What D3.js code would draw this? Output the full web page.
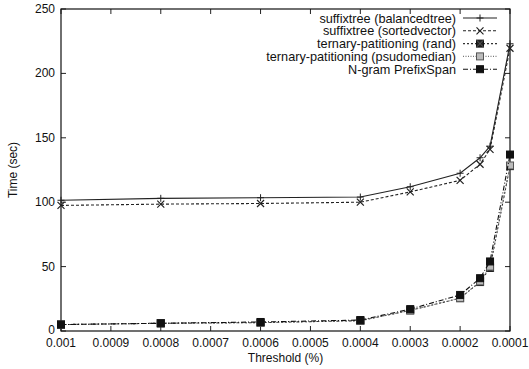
<!DOCTYPE html>
<html>
<head>
<meta charset="utf-8">
<script src="https://cdn.jsdelivr.net/npm/d3@7"></script>
<style>
  body { margin: 0; background: #fff; }
  svg { font-family: "Liberation Sans", Arial, sans-serif; }
</style>
</head>
<body>
<div id="chart"></div>
<script>
const thresholds = [0.001, 0.0008, 0.0006, 0.0004, 0.0003, 0.0002, 0.00016, 0.00014, 0.0001];
const balancedTree = [101.5, 103, 103.5, 104, 112, 122.5, 134.5, 143.5, 223];
const sortedVector = [97.5, 98.5, 99, 100, 108, 117, 129.5, 141, 219.5];
const ternaryRand = [5, 6, 6.5, 8, 16, 25.5, 38, 49, 128];
const ternaryMedian = [5, 6, 6.5, 8, 16, 25.5, 38.5, 50, 128.5];
const prefixSpan = [5, 6, 7, 8.5, 17, 28, 41, 54, 137];

const xTicks = [0.001, 0.0009, 0.0008, 0.0007, 0.0006, 0.0005, 0.0004, 0.0003, 0.0002, 0.0001];
const xTickLabels = ['0.001', '0.0009', '0.0008', '0.0007', '0.0006', '0.0005', '0.0004', '0.0003', '0.0002', '0.0001'];
const yTicks = [0, 50, 100, 150, 200, 250];

const series = [
  { name: 'suffixtree (balancedtree)', values: balancedTree, dash: null, marker: 'plus', color: '#222' },
  { name: 'suffixtree (sortedvector)', values: sortedVector, dash: '3,2', marker: 'cross', color: '#222' },
  { name: 'ternary-patitioning (rand)', values: ternaryRand, dash: '2,2', marker: 'xsquare', color: '#333' },
  { name: 'ternary-patitioning (psudomedian)', values: ternaryMedian, dash: '1,1.5', marker: 'osquare', color: '#777' },
  { name: 'N-gram PrefixSpan', values: prefixSpan, dash: '5,2,1,2', marker: 'square', color: '#111' }
];

const width = 529;
const height = 369;
const margin = { top: 9, right: 19, bottom: 38, left: 61 };

const svg = d3.select('#chart')
  .append('svg')
  .attr('width', width)
  .attr('height', height);

const x = d3.scaleLinear()
  .domain([0.001, 0.0001])
  .range([margin.left, width - margin.right]);

const y = d3.scaleLinear()
  .domain([0, 250])
  .range([height - margin.bottom, margin.top]);

const [x0, x1] = x.range();
const [y0, y1] = y.range();
const tickLen = 5;

// tick marks, mirrored on both sides like gnuplot
const ticks = svg.append('g').attr('stroke', '#222').attr('stroke-width', 1);
xTicks.forEach(t => {
  ticks.append('line').attr('x1', x(t)).attr('x2', x(t)).attr('y1', y0).attr('y2', y0 - tickLen);
  ticks.append('line').attr('x1', x(t)).attr('x2', x(t)).attr('y1', y1).attr('y2', y1 + tickLen);
});
yTicks.forEach(t => {
  ticks.append('line').attr('x1', x0).attr('x2', x0 + tickLen).attr('y1', y(t)).attr('y2', y(t));
  ticks.append('line').attr('x1', x1).attr('x2', x1 - tickLen).attr('y1', y(t)).attr('y2', y(t));
});

svg.append('rect')
  .attr('x', x0)
  .attr('y', y1)
  .attr('width', x1 - x0)
  .attr('height', y0 - y1)
  .attr('fill', 'none')
  .attr('stroke', '#111')
  .attr('stroke-width', 1.2);

svg.append('g')
  .selectAll('text')
  .data(xTicks)
  .join('text')
    .attr('x', d => x(d))
    .attr('y', y0 + 16)
    .attr('text-anchor', 'middle')
    .attr('font-size', 12)
    .attr('fill', '#111')
    .text((d, i) => xTickLabels[i]);

svg.append('g')
  .selectAll('text')
  .data(yTicks)
  .join('text')
    .attr('x', x0 - 6)
    .attr('y', d => y(d) + (d === 0 ? 3 : 4))
    .attr('text-anchor', 'end')
    .attr('font-size', 12)
    .attr('fill', '#111')
    .text(d => d);

svg.append('text')
  .attr('x', (x0 + x1) / 2)
  .attr('y', 362)
  .attr('text-anchor', 'middle')
  .attr('font-size', 12)
  .attr('fill', '#111')
  .text('Threshold (%)');

svg.append('text')
  .attr('transform', `translate(17, ${(y0 + y1) / 2}) rotate(-90)`)
  .attr('text-anchor', 'middle')
  .attr('font-size', 12)
  .attr('fill', '#111')
  .text('Time (sec)');

const drawMarker = (g, kind, cx, cy, color) => {
  const s = 3.5;
  if (kind === 'plus') {
    g.append('path')
      .attr('d', `M${cx - s},${cy}H${cx + s}M${cx},${cy - s}V${cy + s}`)
      .attr('stroke', color).attr('stroke-width', 1).attr('fill', 'none');
  } else if (kind === 'cross') {
    g.append('path')
      .attr('d', `M${cx - s},${cy - s}L${cx + s},${cy + s}M${cx - s},${cy + s}L${cx + s},${cy - s}`)
      .attr('stroke', color).attr('stroke-width', 1.2).attr('fill', 'none');
  } else if (kind === 'xsquare') {
    g.append('rect')
      .attr('x', cx - s).attr('y', cy - s).attr('width', 2 * s).attr('height', 2 * s)
      .attr('fill', '#222').attr('stroke', '#111');
    g.append('path')
      .attr('d', `M${cx - s},${cy - s}L${cx + s},${cy + s}M${cx - s},${cy + s}L${cx + s},${cy - s}`)
      .attr('stroke', '#666').attr('stroke-width', 0.8);
  } else if (kind === 'osquare') {
    g.append('rect')
      .attr('x', cx - s).attr('y', cy - s).attr('width', 2 * s).attr('height', 2 * s)
      .attr('fill', '#bbb').attr('stroke', '#555').attr('stroke-width', 1);
  } else {
    g.append('rect')
      .attr('x', cx - s).attr('y', cy - s).attr('width', 2 * s).attr('height', 2 * s)
      .attr('fill', '#111').attr('stroke', '#111');
  }
};

const line = d3.line()
  .x(d => x(d[0]))
  .y(d => y(d[1]));

series.forEach(s => {
  const pts = thresholds.map((t, i) => [t, s.values[i]]);
  const g = svg.append('g');
  g.append('path')
    .datum(pts)
    .attr('d', line)
    .attr('fill', 'none')
    .attr('stroke', s.color)
    .attr('stroke-width', 1.1)
    .attr('stroke-dasharray', s.dash);
  pts.forEach(p => drawMarker(g, s.marker, x(p[0]), y(p[1]), s.color));
});

// legend
const legend = svg.append('g');
series.forEach((s, i) => {
  const ly = 18 + i * 12.8;
  legend.append('text')
    .attr('x', 456)
    .attr('y', ly + 4.5)
    .attr('text-anchor', 'end')
    .attr('font-size', 12.7)
    .attr('fill', '#111')
    .text(s.name);
  legend.append('line')
    .attr('x1', 463).attr('x2', 497)
    .attr('y1', ly).attr('y2', ly)
    .attr('stroke', s.color)
    .attr('stroke-width', 1.1)
    .attr('stroke-dasharray', s.dash);
  drawMarker(legend, s.marker, 480, ly, s.color);
});
</script>
</body>
</html>
